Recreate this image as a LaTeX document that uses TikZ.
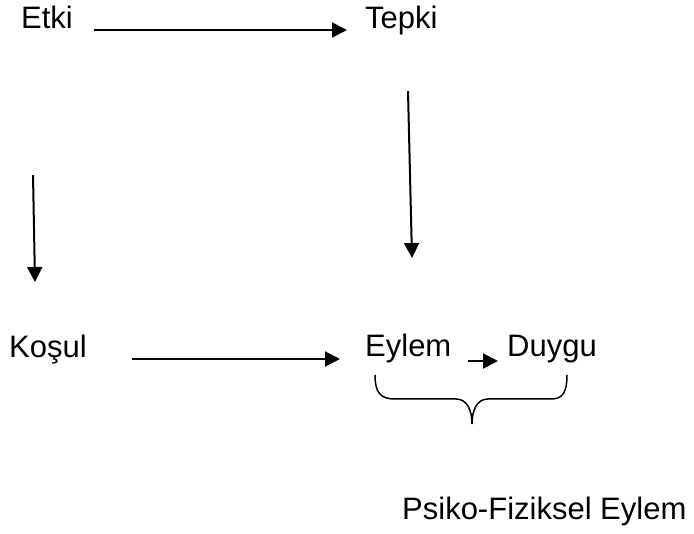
\documentclass[tikz,border=0pt]{standalone}
\usepackage{fontspec}
\setmainfont{Liberation Sans}
\usetikzlibrary{arrows.meta}
\begin{document}
\begin{tikzpicture}[x=1pt, y=-1pt, >={Triangle[length=15pt,width=15pt]},
  lbl/.style={anchor=base west, inner sep=0pt, font=\fontsize{31}{37}\selectfont},
  arr/.style={->, line width=2pt}]
\useasboundingbox (0,0) rectangle (694,534);
\node[lbl] (etki) at (21,29) {Etki};
\node[lbl] (tepki) at (365,29) {Tepki};
\node[lbl] (kosul) at (9,358) {Koşul};
\node[lbl] (eylem) at (365,357) {Eylem};
\node[lbl] (duygu) at (507,357) {Duygu};
\node[lbl] (psiko) at (402,520) {Psiko-Fiziksel Eylem};

\coordinate (e1) at (94,30);
\coordinate (t1) at (347,30);
\coordinate (t2) at (408,91);
\coordinate (t3) at (412,258);
\coordinate (k1) at (33,175);
\coordinate (k2) at (35,282);
\coordinate (k3) at (132,359);
\coordinate (k4) at (340,359);
\coordinate (d1) at (468,361);
\coordinate (d2) at (498,361);

\draw[arr] (e1)--(t1);
\draw[arr] (t2)--(t3);
\draw[arr] (k1)--(k2);
\draw[arr] (k3)--(k4);
\draw[arr] (d1)--(d2);

% brace under Eylem and Duygu
\draw[line width=1.5pt] (375,375) .. controls (375,392) and (380,399) .. (395,399) -- (456,399)
  .. controls (467,399) and (472,410) .. (472,424)
  .. controls (472,410) and (477,399) .. (488,399) -- (551,399)
  .. controls (563,399) and (567,392) .. (567,375);

\end{tikzpicture}
\end{document}
